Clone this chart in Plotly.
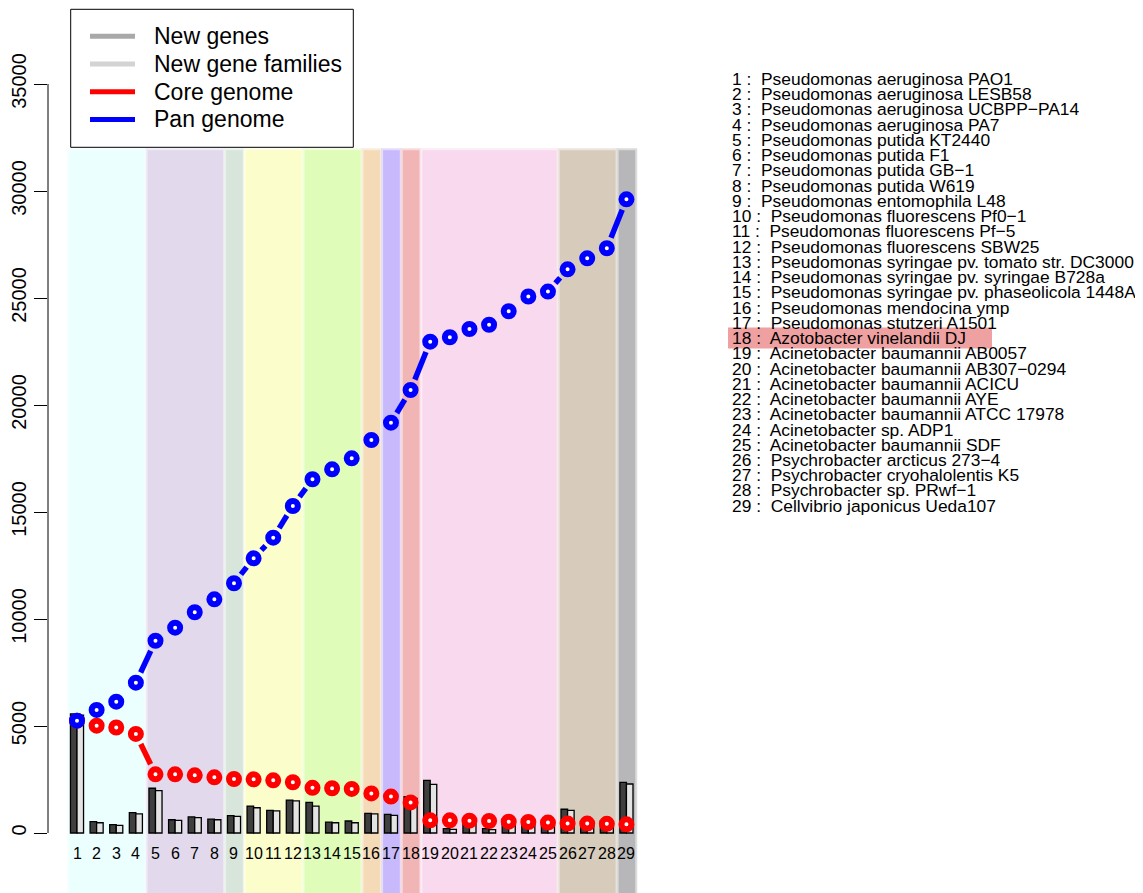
import math
import plotly.graph_objects as go

# ---------------- data ----------------
genome_ids = list(range(1, 30))
genome_names = [
    "Pseudomonas aeruginosa PAO1",
    "Pseudomonas aeruginosa LESB58",
    "Pseudomonas aeruginosa UCBPP\u2212PA14",
    "Pseudomonas aeruginosa PA7",
    "Pseudomonas putida KT2440",
    "Pseudomonas putida F1",
    "Pseudomonas putida GB\u22121",
    "Pseudomonas putida W619",
    "Pseudomonas entomophila L48",
    "Pseudomonas fluorescens Pf0\u22121",
    "Pseudomonas fluorescens Pf\u22125",
    "Pseudomonas fluorescens SBW25",
    "Pseudomonas syringae pv. tomato str. DC3000",
    "Pseudomonas syringae pv. syringae B728a",
    "Pseudomonas syringae pv. phaseolicola 1448A",
    "Pseudomonas mendocina ymp",
    "Pseudomonas stutzeri A1501",
    "Azotobacter vinelandii DJ",
    "Acinetobacter baumannii AB0057",
    "Acinetobacter baumannii AB307\u22120294",
    "Acinetobacter baumannii ACICU",
    "Acinetobacter baumannii AYE",
    "Acinetobacter baumannii ATCC 17978",
    "Acinetobacter sp. ADP1",
    "Acinetobacter baumannii SDF",
    "Psychrobacter arcticus 273\u22124",
    "Psychrobacter cryohalolentis K5",
    "Psychrobacter sp. PRwf\u22121",
    "Cellvibrio japonicus Ueda107",
]
highlight_genome = 18

new_genes = [5570, 530, 390, 950, 2090, 620, 750, 650, 810, 1260, 1060, 1540, 1430, 510,
             560, 920, 870, 1700, 2460, 200, 420, 200, 640, 640, 450, 1110, 530, 560, 2370]
new_gene_families = [5510, 480, 360, 890, 1980, 590, 720, 620, 780, 1180, 1030, 1500, 1260, 480,
                     480, 890, 825, 1620, 2270, 170, 400, 160, 600, 600, 420, 1060, 500, 530, 2290]
core_genome = [5250, 5015, 4930, 4630, 2740, 2740, 2695, 2600, 2525, 2510, 2460, 2370, 2110, 2090,
               2060, 1850, 1700, 1430, 590, 590, 575, 560, 530, 515, 485, 440, 440, 430, 405]
pan_genome = [5250, 5750, 6135, 7025, 8985, 9595, 10315, 10920, 11670, 12835, 13800, 15280, 16530,
              16995, 17510, 18365, 19175, 20700, 22960, 23165, 23550, 23750, 24380, 25070, 25300,
              26340, 26855, 27325, 29610]

clade_first = [1, 5, 9, 10, 13, 16, 17, 18, 19, 26, 29]
clade_last = [4, 8, 9, 12, 15, 16, 17, 18, 25, 28, 29]
clade_top = 32000

y_ticks = [0, 5000, 10000, 15000, 20000, 25000, 30000, 35000]
legend_labels = ["New genes", "New gene families", "Core genome", "Pan genome"]

# ---------------- styles / layout ----------------
clade_colors = ["#ECFFFF", "#E2DAEC", "#D8E5DB", "#FBFDCB", "#DFFDB8", "#F5DAB7",
                "#C7B9FB", "#F2B5B6", "#F8D9EE", "#D7CCBB", "#B7B7B9"]
legend_colors = ["#A9A9A9", "#D3D3D3", "#FF0000", "#0000FF"]
FONT = "Liberation Sans, Arial, Helvetica, sans-serif"

OFF = 8                       # page body margin
W, H = 1143 - OFF, 893 - OFF
AXIS_PX = 48                  # page x of the y axis
ZERO_PX = 833                 # page y of value 0
TOP_PX = 84                   # page y of value 35000
L_M = AXIS_PX - OFF
PW = 612
X0, X1 = -0.478, 30.71
px_y = (ZERO_PX - TOP_PX) / 35000.0
Y1 = (ZERO_PX - OFF) / px_y
Y0 = -(H - (ZERO_PX - OFF)) / px_y
px_x = PW / (X1 - X0)


def px_paper_x(px):
    return (px - OFF - L_M) / PW


def px_paper_y(py):
    return 1 - (py - OFF) / H


def blend_white(hexc, f):
    r, g, b = int(hexc[1:3], 16), int(hexc[3:5], 16), int(hexc[5:7], 16)
    r = int(r + (255 - r) * f)
    g = int(g + (255 - g) * f)
    b = int(b + (255 - b) * f)
    return f"rgb({r},{g},{b})"


def gapped_segments(xs, ys, gap=14.0, lw=5.5):
    sx, sy = [], []
    for i in range(len(xs) - 1):
        dx = xs[i + 1] - xs[i]
        dy = ys[i + 1] - ys[i]
        d = math.hypot(dx * px_x, dy * px_y)
        if d <= 2 * gap:
            continue
        f = (gap - lw / 2) / d
        sx += [xs[i] + f * dx, xs[i + 1] - f * dx, None]
        sy += [ys[i] + f * dy, ys[i + 1] - f * dy, None]
    return sx, sy


fig = go.Figure()

# bars
fig.add_trace(go.Bar(x=genome_ids, y=new_genes, width=1 / 3, offset=-1 / 3,
                     marker=dict(color="#3F3F3F", line=dict(color="black", width=1.3)),
                     showlegend=False, hoverinfo="skip"))
fig.add_trace(go.Bar(x=genome_ids, y=new_gene_families, width=1 / 3, offset=0,
                     marker=dict(color="#E3E3E3", line=dict(color="black", width=1.3)),
                     showlegend=False, hoverinfo="skip"))

# core genome
sx, sy = gapped_segments(genome_ids, core_genome)
fig.add_trace(go.Scatter(x=sx, y=sy, mode="lines", line=dict(color="#FF0000", width=5.5),
                         showlegend=False, hoverinfo="skip"))
fig.add_trace(go.Scatter(x=genome_ids, y=core_genome, mode="markers",
                         marker=dict(symbol="circle", size=10, color="white",
                                     line=dict(color="#FF0000", width=6)),
                         showlegend=False))
# pan genome
sx, sy = gapped_segments(genome_ids, pan_genome)
fig.add_trace(go.Scatter(x=sx, y=sy, mode="lines", line=dict(color="#0000FF", width=5.5),
                         showlegend=False, hoverinfo="skip"))
fig.add_trace(go.Scatter(x=genome_ids, y=pan_genome, mode="markers",
                         marker=dict(symbol="circle", size=10, color="white",
                                     line=dict(color="#0000FF", width=6)),
                         showlegend=False))

shapes = []
# clade background rectangles
for a, b, c in zip(clade_first, clade_last, clade_colors):
    shapes.append(dict(type="rect", xref="x", yref="y", x0=a - 0.45, x1=b + 0.5,
                       y0=Y0 - 1000, y1=clade_top - 50, fillcolor=c,
                       line=dict(color=blend_white(c, 0.5), width=2), layer="below"))
# y-axis line
shapes.append(dict(type="line", xref="paper", yref="y", x0=0, x1=0, y0=y_ticks[0], y1=y_ticks[-1],
                   line=dict(color="black", width=1)))
# legend box
shapes.append(dict(type="rect", xref="paper", yref="paper",
                   x0=px_paper_x(70.7), x1=px_paper_x(353.3),
                   y0=px_paper_y(147.3), y1=px_paper_y(9.3),
                   fillcolor="white", line=dict(color="black", width=1), layer="above"))
annotations = []
for k, (lab, col) in enumerate(zip(legend_labels, legend_colors)):
    ypx = 36.3 + k * 27.7
    shapes.append(dict(type="line", xref="paper", yref="paper",
                       x0=px_paper_x(90), x1=px_paper_x(135),
                       y0=px_paper_y(ypx), y1=px_paper_y(ypx),
                       line=dict(color=col, width=5), layer="above"))
    annotations.append(dict(text=lab, xref="paper", yref="paper", x=px_paper_x(152),
                            y=px_paper_y(ypx), xanchor="left", yanchor="middle",
                            showarrow=False, font=dict(family=FONT, size=23, color="black")))

# highlight behind genome 18 in list
line_h = 15.24
hl_y = 79 + (highlight_genome - 1) * line_h
shapes.append(dict(type="rect", xref="paper", yref="paper",
                   x0=px_paper_x(728), x1=px_paper_x(992),
                   y0=px_paper_y(hl_y + 10.5), y1=px_paper_y(hl_y - 10.5),
                   fillcolor="#EFA0A0", line=dict(width=0), layer="below"))

# genome list
for k, name in zip(genome_ids, genome_names):
    annotations.append(dict(text=f"{k} :  {name}", xref="paper", yref="paper",
                            x=px_paper_x(730), y=px_paper_y(79 + (k - 1) * line_h),
                            xanchor="left", yanchor="middle", showarrow=False,
                            font=dict(family=FONT, size=17.4, color="black")))

# x labels
for k in genome_ids:
    annotations.append(dict(text=str(k), xref="x", yref="y", x=k, y=0, yshift=-20,
                            xanchor="center", yanchor="middle", showarrow=False,
                            font=dict(family=FONT, size=16, color="black")))

fig.update_layout(
    width=W, height=H,
    margin=dict(l=L_M, r=W - L_M - PW, t=0, b=0),
    paper_bgcolor="white", plot_bgcolor="rgba(0,0,0,0)",
    barmode="overlay",
    shapes=shapes, annotations=annotations,
    showlegend=False,
    xaxis=dict(range=[X0, X1], visible=False),
    yaxis=dict(range=[Y0, Y1], tickvals=y_ticks, ticktext=[str(v) for v in y_ticks],
               tickangle=-90, ticks="outside", ticklen=13, tickcolor="black", tickwidth=1,
               showgrid=False, zeroline=False, showline=False,
               tickfont=dict(family=FONT, size=20, color="black")),
)

fig.write_html("out.html")
